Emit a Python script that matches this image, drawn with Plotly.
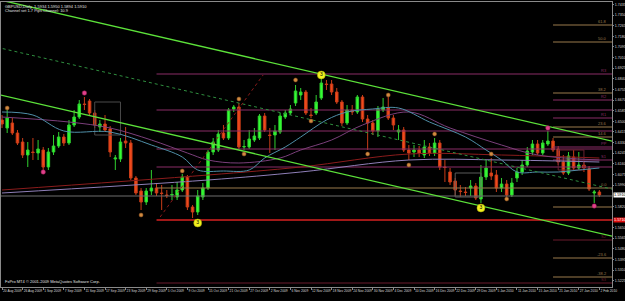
import plotly.graph_objects as go

# ---------------- data (GBPUSD daily) ----------------
opens = [1.6510,1.6446,1.6486,1.6406,1.6334,1.6230,1.6254,1.6246,1.6270,1.6134,
         1.6254,1.6302,1.6374,1.6326,1.6470,1.6534,1.6638,1.6662,1.6566,1.6454,
         1.6478,1.6438,1.6198,1.6198,1.6342,1.6326,1.6046,1.5942,1.5854,1.5942,
         1.5966,1.5926,1.5910,1.5910,1.5894,1.5950,1.6054,1.5814,1.5774,1.5894,
         1.5966,1.6254,1.6270,1.6406,1.6366,1.6598,1.6614,1.6294,1.6294,1.6350,
         1.6366,1.6542,1.6390,1.6390,1.6414,1.6534,1.6566,1.6646,1.6710,1.6734,
         1.6550,1.6566,1.6686,1.6798,1.6798,1.6734,1.6654,1.6486,1.6590,1.6574,
         1.6694,1.6518,1.6486,1.6422,1.6590,1.6606,1.6526,1.6414,1.6430,1.6270,
         1.6254,1.6270,1.6230,1.6294,1.6246,1.6326,1.6134,1.6094,1.6022,1.5942,
         1.5934,1.5966,1.5982,1.5878,1.6054,1.6086,1.6070,1.5966,1.5998,1.5910,
         1.6046,1.6094,1.6150,1.6254,1.6318,1.6246,1.6318,1.6342,1.6278,1.6174,
         1.6086,1.6214,1.6126,1.6150,1.6118,1.5926,1.5934]
highs = [1.6550,1.6590,1.6526,1.6430,1.6366,1.6334,1.6366,1.6350,1.6294,1.6286,
         1.6390,1.6414,1.6398,1.6510,1.6590,1.6670,1.6694,1.6678,1.6590,1.6510,
         1.6550,1.6462,1.6230,1.6366,1.6454,1.6350,1.6062,1.5966,1.5966,1.6110,
         1.6006,1.5990,1.5950,1.5990,1.6014,1.6078,1.6070,1.5830,1.5950,1.6006,
         1.6270,1.6366,1.6430,1.6470,1.6606,1.6630,1.6646,1.6350,1.6430,1.6446,
         1.6558,1.6566,1.6446,1.6470,1.6566,1.6590,1.6630,1.6790,1.6766,1.6750,
         1.6606,1.6710,1.6846,1.6830,1.6830,1.6766,1.6670,1.6630,1.6630,1.6710,
         1.6710,1.6550,1.6510,1.6622,1.6686,1.6694,1.6550,1.6470,1.6454,1.6310,
         1.6310,1.6302,1.6350,1.6326,1.6366,1.6350,1.6190,1.6126,1.6046,1.5990,
         1.5974,1.6030,1.6006,1.6150,1.6190,1.6206,1.6110,1.6046,1.6030,1.6046,
         1.6126,1.6190,1.6294,1.6350,1.6350,1.6350,1.6422,1.6366,1.6302,1.6230,
         1.6254,1.6270,1.6254,1.6174,1.6142,1.5950,1.5950]
lows = [1.6446,1.6406,1.6390,1.6310,1.6206,1.6134,1.6190,1.6190,1.6110,1.6110,
        1.6230,1.6286,1.6302,1.6310,1.6454,1.6518,1.6590,1.6550,1.6446,1.6414,
        1.6414,1.6214,1.6110,1.6174,1.6286,1.6030,1.5910,1.5790,1.5830,1.5910,
        1.5902,1.5790,1.5886,1.5870,1.5870,1.5934,1.5790,1.5726,1.5750,1.5870,
        1.5950,1.6230,1.6254,1.6350,1.6350,1.6574,1.6278,1.6270,1.6278,1.6334,
        1.6350,1.6414,1.6246,1.6270,1.6398,1.6518,1.6550,1.6622,1.6670,1.6550,
        1.6526,1.6550,1.6670,1.6750,1.6710,1.6638,1.6462,1.6470,1.6550,1.6558,
        1.6494,1.6270,1.6390,1.6374,1.6574,1.6510,1.6430,1.6350,1.6254,1.6190,
        1.6214,1.6214,1.6206,1.6222,1.6222,1.6110,1.6014,1.5990,1.5902,1.5894,
        1.5902,1.5902,1.5870,1.5846,1.6030,1.6030,1.5934,1.5934,1.5894,1.5894,
        1.6014,1.6070,1.6134,1.6230,1.6230,1.6230,1.6302,1.6254,1.6150,1.6070,
        1.6070,1.6110,1.6110,1.6094,1.5942,1.5846,1.5894]
closes = [1.6478,1.6526,1.6406,1.6326,1.6230,1.6270,1.6250,1.6278,1.6134,1.6254,
          1.6302,1.6374,1.6326,1.6470,1.6534,1.6638,1.6634,1.6566,1.6470,1.6478,
          1.6430,1.6254,1.6206,1.6334,1.6326,1.6046,1.5926,1.5854,1.5942,1.5966,
          1.5926,1.5922,1.5906,1.5914,1.5950,1.6054,1.5814,1.5774,1.5902,1.5966,
          1.6254,1.6334,1.6398,1.6366,1.6590,1.6614,1.6294,1.6298,1.6358,1.6382,
          1.6542,1.6430,1.6386,1.6422,1.6542,1.6566,1.6598,1.6742,1.6734,1.6566,
          1.6546,1.6654,1.6806,1.6794,1.6734,1.6654,1.6486,1.6590,1.6574,1.6694,
          1.6518,1.6486,1.6422,1.6598,1.6614,1.6526,1.6470,1.6430,1.6270,1.6246,
          1.6270,1.6246,1.6294,1.6246,1.6326,1.6134,1.6130,1.6014,1.5950,1.5938,
          1.5930,1.5982,1.5886,1.6054,1.6126,1.6062,1.5966,1.5998,1.5910,1.6006,
          1.6094,1.6150,1.6262,1.6318,1.6246,1.6326,1.6342,1.6270,1.6174,1.6086,
          1.6222,1.6126,1.6150,1.6126,1.5958,1.5934,1.5910]

date_labels = ["20 Aug 2009","26 Aug 2009","1 Sep 2009","7 Sep 2009","11 Sep 2009",
               "17 Sep 2009","23 Sep 2009","29 Sep 2009","5 Oct 2009","9 Oct 2009",
               "15 Oct 2009","21 Oct 2009","27 Oct 2009","2 Nov 2009","6 Nov 2009",
               "12 Nov 2009","18 Nov 2009","24 Nov 2009","30 Nov 2009","4 Dec 2009",
               "10 Dec 2009","16 Dec 2009","22 Dec 2009","29 Dec 2009","5 Jan 2010",
               "11 Jan 2010","15 Jan 2010","21 Jan 2010","27 Jan 2010","2 Feb 2010"]
label_step = 4
price_ticks_start = 1.5225
price_ticks_step = 0.0085
price_ticks_count = 27

# fractal markers
orange_idx = [1, 27, 35, 46, 47, 57, 60, 71, 75, 79, 84, 95, 98]
orange_px = [1.6606, 1.5750, 1.6102, 1.6678, 1.6238, 1.6830, 1.6502, 1.6238,
             1.6710, 1.6150, 1.6398, 1.6238, 1.5878]
magenta_idx = [8, 16, 106, 115]
magenta_px = [1.6094, 1.6726, 1.6446, 1.5822]
yellow_idx = [38, 62, 93]
yellow_px = [1.5686, 1.6870, 1.5806]

# moving averages
ma_fast_idx = [0, 6, 12, 21, 29, 35, 38, 43, 48, 51, 55, 58, 63, 67, 72, 77, 83,
               90, 94, 97, 100, 104, 108, 112, 116]
ma_fast_px = [1.6574, 1.6550, 1.6422, 1.6414, 1.6310, 1.6214, 1.6110, 1.6102,
              1.6110, 1.6206, 1.6294, 1.6374, 1.6510, 1.6574, 1.6598, 1.6606,
              1.6494, 1.6374, 1.6270, 1.6190, 1.6094, 1.6094, 1.6094, 1.6110, 1.6126]
ma_mid_idx = [0, 13, 21, 29, 36, 40, 46, 54, 58, 64, 70, 79, 87, 97, 104, 116]
ma_mid_px = [1.6534, 1.6494, 1.6446, 1.6350, 1.6246, 1.6190, 1.6166, 1.6206,
             1.6270, 1.6350, 1.6470, 1.6574, 1.6446, 1.6310, 1.6230, 1.6190]
ma_slow1_idx = [0, 40, 58, 79, 97, 116]
ma_slow1_px = [1.5950, 1.6070, 1.6134, 1.6238, 1.6230, 1.6206]
ma_slow2_idx = [0, 40, 58, 79, 97, 116]
ma_slow2_px = [1.5926, 1.6030, 1.6094, 1.6190, 1.6190, 1.6174]

# channel (trend lines, two anchors each)
chan_idx = [-1, 119]
chan_upper = [1.7476, 1.6336]
chan_mid = [1.7092, 1.5952]
chan_lower = [1.6716, 1.5576]
zigzag_idx = [30.7, 50.7]
zigzag_px = [1.5734, 1.6870]

# horizontal levels: price, kind, label, start index
lvl_px = [1.7270, 1.7134, 1.6878, 1.6726, 1.6670, 1.6590, 1.6526, 1.6454, 1.6422,
          1.6374, 1.6294, 1.6278, 1.6190, 1.6134, 1.5966, 1.5902, 1.5814, 1.5710,
          1.5550, 1.5406, 1.5254, 1.5206]
lvl_kind = ["fib", "fib", "piv", "fib", "piv", "piv", "piv", "fib", "piv", "fib",
            "piv", "piv", "piv", "piv", "fib", "grey", "fib", "red", "mar", "fib",
            "fib", "mar"]
lvl_label = ["61.8", "50.0", "R3", "38.2", "R2", "", "R1", "23.6", "", "14.6",
             "PP", "", "S1", "", "0.0", "", "", "", "S2", "-23.6", "-38.2", "S3"]
lvl_start = [107, 107, 30, 107, 107, 30, 107, 107, 30, 107, 107, 30, 107, 30, 30,
             -1, 107, 30, 107, 107, 107, 30]

# small range boxes: start idx, end idx, top, bottom
box_x0 = [18, 88, 108]
box_x1 = [23, 93, 113]
box_top = [1.6654, 1.6086, 1.6270]
box_bot = [1.6390, 1.5894, 1.6110]

# ---------------- styling ----------------
FONT = "Liberation Sans"
kind_color = {"fib": "#9a7a4c", "piv": "#8a2c66", "grey": "#6e6e6e",
              "red": "#a01818", "mar": "#6a1a2c"}
n = len(closes)
xs = list(range(n))
X_MIN, X_MAX = -0.2, 118.45
Y_MIN, Y_MAX = 1.5174, 1.7454

fig = go.Figure()

for p, k, s in zip(lvl_px, lvl_kind, lvl_start):
    fig.add_trace(go.Scatter(x=[s, X_MAX + 1], y=[p, p], mode="lines",
                             line=dict(color=kind_color[k], width=2 if k == "red" else 1),
                             hoverinfo="skip"))

for a, b, t, u, c in zip(box_x0, box_x1, box_top, box_bot, ["#4a4a4a", "#5a5a5a", "#6a2030"]):
    fig.add_trace(go.Scatter(x=[a, b, b, a, a], y=[t, t, u, u, t], mode="lines",
                             line=dict(color=c, width=1), hoverinfo="skip"))

fig.add_trace(go.Scatter(x=ma_slow1_idx, y=ma_slow1_px, mode="lines",
                         line=dict(color="#8b1c1c", width=1, shape="spline")))
fig.add_trace(go.Scatter(x=ma_slow2_idx, y=ma_slow2_px, mode="lines",
                         line=dict(color="#8f7fb8", width=1, shape="spline")))
fig.add_trace(go.Scatter(x=ma_mid_idx, y=ma_mid_px, mode="lines",
                         line=dict(color="#7b3f7b", width=1, shape="spline")))
fig.add_trace(go.Scatter(x=ma_fast_idx, y=ma_fast_px, mode="lines",
                         line=dict(color="#4f8fa8", width=1, shape="spline")))

fig.add_trace(go.Scatter(x=chan_idx, y=chan_mid, mode="lines",
                         line=dict(color="#2f8f3f", width=1, dash="dot")))
fig.add_trace(go.Scatter(x=zigzag_idx, y=zigzag_px, mode="lines",
                         line=dict(color="#8b1a1a", width=1, dash="dot")))
fig.add_trace(go.Scatter(x=chan_idx, y=chan_upper, mode="lines",
                         line=dict(color="#5ce23a", width=1.3)))
fig.add_trace(go.Scatter(x=chan_idx, y=chan_lower, mode="lines",
                         line=dict(color="#5ce23a", width=1.3)))

fig.add_trace(go.Candlestick(
    x=xs, open=opens, high=highs, low=lows, close=closes,
    increasing=dict(line=dict(color="#2fd02f", width=1), fillcolor="#33ff33"),
    decreasing=dict(line=dict(color="#c83c18", width=1), fillcolor="#f04a1c"),
    whiskerwidth=0))

fig.add_trace(go.Scatter(x=orange_idx, y=orange_px, mode="markers",
                         marker=dict(size=4, color="#d08a40", line=dict(color="#8a5020", width=0.5))))
fig.add_trace(go.Scatter(x=magenta_idx, y=magenta_px, mode="markers",
                         marker=dict(size=4.5, color="#e0408a", line=dict(color="#901850", width=0.5))))
fig.add_trace(go.Scatter(x=yellow_idx, y=yellow_px, mode="markers+text",
                         marker=dict(size=8, color="#f0f020", line=dict(color="#a0a000", width=0.5)),
                         text=["3"] * len(yellow_idx), textposition="middle center",
                         textfont=dict(family=FONT, size=5, color="#000000")))

ann = []
for p, k, lab in zip(lvl_px, lvl_kind, lvl_label):
    if lab:
        ann.append(dict(x=117.9, y=p, xref="x", yref="y", text=lab, showarrow=False,
                        xanchor="right", yanchor="bottom", yshift=-1,
                        font=dict(family=FONT, size=4, color=kind_color[k])))

last = n - 1
title1 = "GBPUSD,Daily  %.4f %.4f %.4f %.4f" % (opens[last], highs[last], lows[last], closes[last])
ann.append(dict(x=0.004, y=1, xref="paper", yref="paper", text=title1, showarrow=False,
                xanchor="left", yanchor="top", yshift=0,
                font=dict(family=FONT, size=4, color="#e0e0e0")))
ann.append(dict(x=0.004, y=1, xref="paper", yref="paper",
                text="Channel set 1.7 Pips Channel: 10.9", showarrow=False,
                xanchor="left", yanchor="top", yshift=-4,
                font=dict(family=FONT, size=4, color="#e0e0e0")))
ann.append(dict(x=0.004, y=0, xref="paper", yref="paper",
                text="FxPro MT4 \u00a9 2001-2009 MetaQuotes Software Corp.", showarrow=False,
                xanchor="left", yanchor="bottom", yshift=1,
                font=dict(family=FONT, size=4, color="#e0e0e0")))
box_prices = [closes[last], lvl_px[17]]
ann.append(dict(x=1, y=box_prices[0], xref="paper", yref="y", text="%.4f" % box_prices[0],
                showarrow=False, xanchor="left", yanchor="middle", bgcolor="#ffffff",
                borderpad=0, xshift=1, font=dict(family=FONT, size=3.8, color="#000000")))
ann.append(dict(x=1, y=box_prices[1], xref="paper", yref="y", text="%.4f" % box_prices[1],
                showarrow=False, xanchor="left", yanchor="middle", bgcolor="#e01010",
                borderpad=0, xshift=1, font=dict(family=FONT, size=3.8, color="#ffffff")))

# price ticks; the axis boxes cover the labels they sit on (as in MT4)
yt_all = [round(price_ticks_start + i * price_ticks_step, 4) for i in range(price_ticks_count)]
yt = [v for v in yt_all if all(abs(v - b) > 0.005 for b in box_prices)]

fig.update_layout(
    width=625, height=301, margin=dict(l=1, r=13, t=2, b=14, pad=0, autoexpand=False),
    paper_bgcolor="#000000", plot_bgcolor="#000000", showlegend=False,
    annotations=ann,
    xaxis=dict(range=[X_MIN, X_MAX], rangeslider=dict(visible=False), showgrid=False,
               automargin=False, tickangle=0,
               zeroline=False, showline=True, linecolor="#8a8a8a", linewidth=1, mirror=True,
               tickvals=list(range(0, n, label_step)), ticktext=date_labels,
               ticks="outside", ticklen=2, tickcolor="#8a8a8a",
               ticklabelposition="outside right", ticklabelstandoff=0,
               tickfont=dict(family=FONT, size=3.3, color="#d8d8d8")),
    yaxis=dict(range=[Y_MIN, Y_MAX], side="right", showgrid=False, zeroline=False,
               automargin=False,
               showline=True, linecolor="#8a8a8a", linewidth=1, mirror=True,
               tickvals=yt, ticktext=["%.4f" % v for v in yt],
               ticks="outside", ticklen=1, tickcolor="#8a8a8a", ticklabelstandoff=0,
               tickfont=dict(family=FONT, size=3.6, color="#d8d8d8")),
)

fig.write_html("out.html")
